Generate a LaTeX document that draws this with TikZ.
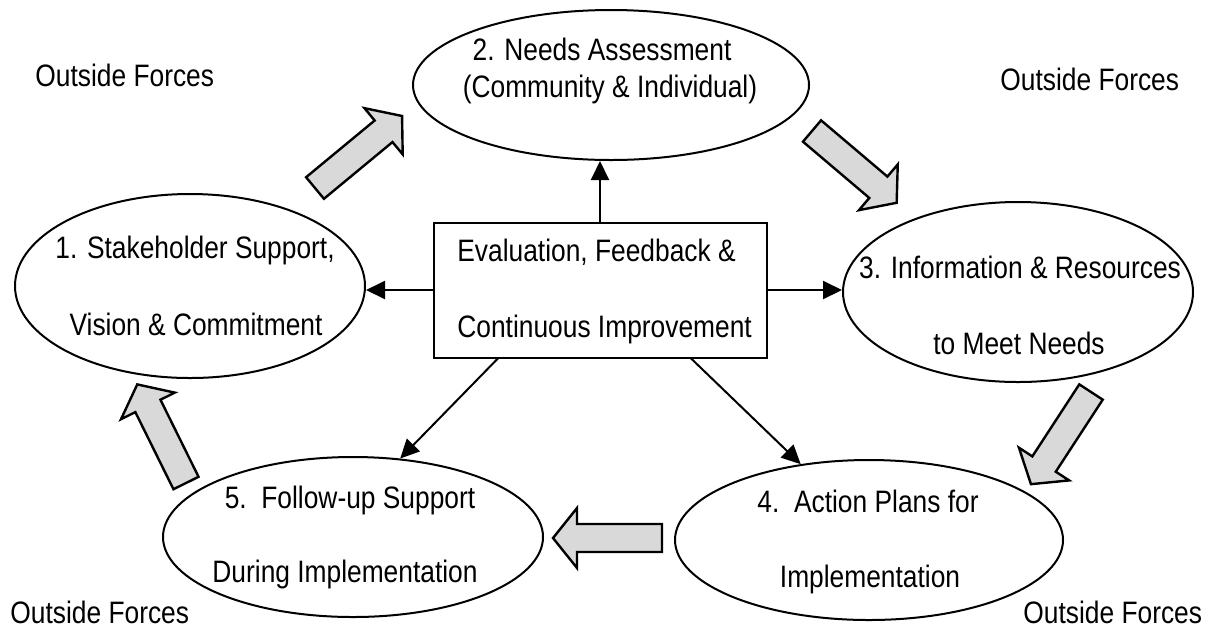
\documentclass[tikz,border=0pt]{standalone}
\usepackage{fontspec}
\setmainfont{Liberation Sans}[FakeStretch=0.85]
\usetikzlibrary{shapes.geometric,arrows.meta,calc}
% block arrow: #1 tail point, #2 direction angle, #3 length (pixel units)
\newcommand{\fatarrow}[3]{%
  \begin{scope}[shift={(#1)},rotate=#2]
    \draw[fatarr] (0,-14) -- ({#3-24},-14) -- ({#3-24},-30) -- (#3,0)
      -- ({#3-24},30) -- ({#3-24},14) -- (0,14) -- cycle;
  \end{scope}}
\begin{document}
\begin{tikzpicture}[x=0.5pt,y=-0.5pt,
  every node/.style={font=\fontsize{15.5}{18.5}\selectfont, inner sep=0pt},
  ell/.style={draw, ellipse, line width=1pt},
  txt/.style={anchor=base},
  ltxt/.style={anchor=base west},
  conn/.style={-{Triangle[length=9.5pt,width=9pt]}, line width=1pt},
  fatarr/.style={draw, line width=1.2pt, fill=black!15, line join=miter}]
\useasboundingbox (0,0) rectangle (1208,628);

% ellipses
\node[ell, minimum width=175pt, minimum height=92pt] (e1) at (190,286) {};
\node[ell, minimum width=198pt, minimum height=75pt] (e2) at (611,85) {};
\node[ell, minimum width=175pt, minimum height=90pt] (e3) at (1018,292) {};
\node[ell, minimum width=194pt, minimum height=80pt] (e4) at (869,540) {};
\node[ell, minimum width=190pt, minimum height=80pt] (e5) at (353,537) {};

% ellipse texts
\node[txt] (t1a) at (195,258) {1. Stakeholder Support,};
\node[txt] (t1b) at (196,335) {Vision \& Commitment};
\node[txt] (t2a) at (602,60) {2. Needs Assessment};
\node[txt] (t2b) at (610,97) {(Community \& Individual)};
\node[txt] (t3a) at (1020,278) {3. Information \& Resources};
\node[txt] (t3b) at (1019,354) {to Meet Needs};
\node[txt] (t4a) at (868,512) {4.\ \ Action Plans for};
\node[txt] (t4b) at (870,587) {Implementation};
\node[txt] (t5a) at (350,508) {5.\ \ Follow-up Support};
\node[txt] (t5b) at (345,582) {During Implementation};

% central box
\node[draw, line width=1pt, minimum width=166.5pt, minimum height=67.5pt] (box) at (600,290) {};
\node[ltxt] (tb1) at (457,261) {Evaluation, Feedback \&};
\node[ltxt] (tb2) at (457,337) {Continuous Improvement};

% connectors
\draw[conn] (box.north) -- (box.north |- e2.south);
\draw[conn] (box.west) -- (box.west -| e1.east);
\draw[conn] (box.east) -- (box.east -| e3.west);
\draw[conn] ($(box.south west)!0.195!(box.south east)$) -- (e5.59);
\draw[conn] ($(box.south west)!0.772!(box.south east)$) -- (e4.132);

% outside forces
\node[ltxt] (of1) at (35,86) {Outside Forces};
\node[ltxt] (of2) at (1000,90) {Outside Forces};
\node[ltxt] (of3) at (10,623) {Outside Forces};
\node[ltxt] (of4) at (1023,623) {Outside Forces};

% block arrows of the cycle
\fatarrow{315,188}{39.6}{113}
\fatarrow{812,131}{-40.3}{111}
\fatarrow{1091,392}{-123.1}{110}
\fatarrow{662,538}{180}{109}
\fatarrow{186,483}{116.3}{110}
\end{tikzpicture}
\end{document}
